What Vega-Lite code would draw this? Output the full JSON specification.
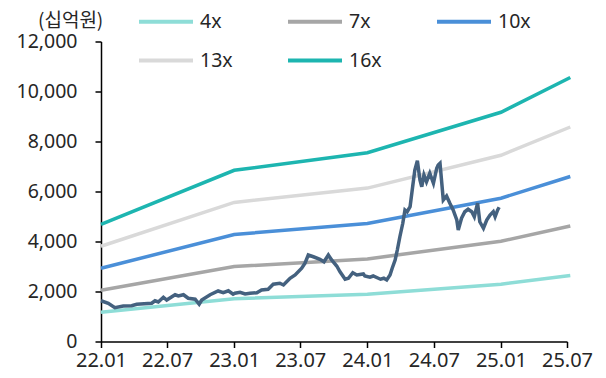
{
  "$schema": "https://vega.github.io/schema/vega-lite/v6.json",
  "width": 466,
  "height": 300,
  "autosize": {"type": "none"},
  "padding": {"left": 101, "top": 41.5, "right": 39, "bottom": 36.5},
  "background": "white",
  "config": {"view": {"stroke": null}, "font": "Noto Sans, Noto Sans CJK KR"},
  "title": {
    "text": "(십억원)",
    "anchor": "start",
    "frame": "group",
    "orient": "top",
    "dx": -63,
    "offset": -53,
    "baseline": "alphabetic",
    "font": "Noto Sans CJK KR",
    "fontSize": 19,
    "fontWeight": "normal",
    "color": "#262626"
  },
  "datasets": {
    "bands": [
      {"date": "2022-01-01", "band": "4x", "value": 1172},
      {"date": "2023-01-01", "band": "4x", "value": 1712},
      {"date": "2024-01-01", "band": "4x", "value": 1888},
      {"date": "2025-01-01", "band": "4x", "value": 2292},
      {"date": "2025-07-10", "band": "4x", "value": 2640},
      {"date": "2022-01-01", "band": "7x", "value": 2051},
      {"date": "2023-01-01", "band": "7x", "value": 2996},
      {"date": "2024-01-01", "band": "7x", "value": 3304},
      {"date": "2025-01-01", "band": "7x", "value": 4011},
      {"date": "2025-07-10", "band": "7x", "value": 4620},
      {"date": "2022-01-01", "band": "10x", "value": 2930},
      {"date": "2023-01-01", "band": "10x", "value": 4280},
      {"date": "2024-01-01", "band": "10x", "value": 4720},
      {"date": "2025-01-01", "band": "10x", "value": 5730},
      {"date": "2025-07-10", "band": "10x", "value": 6600},
      {"date": "2022-01-01", "band": "13x", "value": 3809},
      {"date": "2023-01-01", "band": "13x", "value": 5564},
      {"date": "2024-01-01", "band": "13x", "value": 6136},
      {"date": "2025-01-01", "band": "13x", "value": 7449},
      {"date": "2025-07-10", "band": "13x", "value": 8580},
      {"date": "2022-01-01", "band": "16x", "value": 4688},
      {"date": "2023-01-01", "band": "16x", "value": 6848},
      {"date": "2024-01-01", "band": "16x", "value": 7552},
      {"date": "2025-01-01", "band": "16x", "value": 9168},
      {"date": "2025-07-10", "band": "16x", "value": 10560}
    ],
    "mcap": [
      {"date": "2022-01-01", "value": 1630},
      {"date": "2022-01-21", "value": 1530},
      {"date": "2022-02-08", "value": 1350},
      {"date": "2022-03-03", "value": 1420},
      {"date": "2022-03-26", "value": 1430},
      {"date": "2022-04-09", "value": 1490},
      {"date": "2022-05-20", "value": 1530},
      {"date": "2022-05-29", "value": 1630},
      {"date": "2022-06-07", "value": 1580},
      {"date": "2022-06-21", "value": 1770},
      {"date": "2022-06-30", "value": 1660},
      {"date": "2022-07-23", "value": 1870},
      {"date": "2022-08-01", "value": 1820},
      {"date": "2022-08-15", "value": 1870},
      {"date": "2022-08-28", "value": 1730},
      {"date": "2022-09-16", "value": 1690},
      {"date": "2022-09-27", "value": 1490},
      {"date": "2022-10-04", "value": 1660},
      {"date": "2022-10-27", "value": 1870},
      {"date": "2022-11-18", "value": 2020},
      {"date": "2022-12-02", "value": 1950},
      {"date": "2022-12-16", "value": 2030},
      {"date": "2022-12-29", "value": 1890},
      {"date": "2023-01-03", "value": 1930},
      {"date": "2023-01-17", "value": 1970},
      {"date": "2023-01-31", "value": 1900},
      {"date": "2023-02-13", "value": 1930},
      {"date": "2023-03-04", "value": 1950},
      {"date": "2023-03-17", "value": 2060},
      {"date": "2023-04-04", "value": 2090},
      {"date": "2023-04-18", "value": 2290},
      {"date": "2023-05-06", "value": 2330},
      {"date": "2023-05-16", "value": 2260},
      {"date": "2023-06-03", "value": 2530},
      {"date": "2023-06-17", "value": 2660},
      {"date": "2023-07-05", "value": 2930},
      {"date": "2023-07-14", "value": 3130},
      {"date": "2023-07-23", "value": 3460},
      {"date": "2023-08-06", "value": 3390},
      {"date": "2023-08-24", "value": 3290},
      {"date": "2023-09-04", "value": 3190},
      {"date": "2023-09-16", "value": 3460},
      {"date": "2023-09-25", "value": 3260},
      {"date": "2023-10-09", "value": 3020},
      {"date": "2023-10-18", "value": 2790},
      {"date": "2023-11-01", "value": 2490},
      {"date": "2023-11-10", "value": 2530},
      {"date": "2023-11-22", "value": 2750},
      {"date": "2023-12-03", "value": 2660},
      {"date": "2023-12-21", "value": 2700},
      {"date": "2023-12-25", "value": 2620},
      {"date": "2024-01-08", "value": 2570},
      {"date": "2024-01-17", "value": 2620},
      {"date": "2024-01-31", "value": 2530},
      {"date": "2024-02-06", "value": 2490},
      {"date": "2024-02-15", "value": 2530},
      {"date": "2024-02-23", "value": 2460},
      {"date": "2024-03-03", "value": 2660},
      {"date": "2024-03-09", "value": 2930},
      {"date": "2024-03-17", "value": 3260},
      {"date": "2024-03-23", "value": 3660},
      {"date": "2024-03-30", "value": 4190},
      {"date": "2024-04-07", "value": 4730},
      {"date": "2024-04-13", "value": 5260},
      {"date": "2024-04-19", "value": 5190},
      {"date": "2024-04-27", "value": 5390},
      {"date": "2024-05-04", "value": 6190},
      {"date": "2024-05-10", "value": 6860},
      {"date": "2024-05-17", "value": 7230},
      {"date": "2024-05-24", "value": 6460},
      {"date": "2024-05-29", "value": 6190},
      {"date": "2024-06-04", "value": 6660},
      {"date": "2024-06-11", "value": 6390},
      {"date": "2024-06-20", "value": 6730},
      {"date": "2024-06-30", "value": 6330},
      {"date": "2024-07-09", "value": 6930},
      {"date": "2024-07-13", "value": 7060},
      {"date": "2024-07-18", "value": 7130},
      {"date": "2024-07-27", "value": 5660},
      {"date": "2024-08-05", "value": 5820},
      {"date": "2024-08-14", "value": 5530},
      {"date": "2024-08-23", "value": 5260},
      {"date": "2024-09-02", "value": 4860},
      {"date": "2024-09-06", "value": 4460},
      {"date": "2024-09-15", "value": 4930},
      {"date": "2024-09-24", "value": 5190},
      {"date": "2024-10-03", "value": 5290},
      {"date": "2024-10-13", "value": 5190},
      {"date": "2024-10-20", "value": 4990},
      {"date": "2024-10-29", "value": 5530},
      {"date": "2024-11-04", "value": 4790},
      {"date": "2024-11-14", "value": 4530},
      {"date": "2024-11-23", "value": 4860},
      {"date": "2024-12-02", "value": 5060},
      {"date": "2024-12-11", "value": 5190},
      {"date": "2024-12-16", "value": 4990},
      {"date": "2024-12-23", "value": 5260},
      {"date": "2024-12-27", "value": 5370}
    ]
  },
  "encoding": {
    "x": {
      "field": "date", "type": "temporal",
      "scale": {"type": "utc", "domain": [{"year": 2022, "month": 1, "date": 1, "utc": true}, {"year": 2025, "month": 7, "date": 1, "utc": true}]},
      "axis": {
        "values": [
          {"year": 2022, "month": 1, "date": 1, "utc": true},
          {"year": 2022, "month": 7, "date": 1, "utc": true},
          {"year": 2023, "month": 1, "date": 1, "utc": true},
          {"year": 2023, "month": 7, "date": 1, "utc": true},
          {"year": 2024, "month": 1, "date": 1, "utc": true},
          {"year": 2024, "month": 7, "date": 1, "utc": true},
          {"year": 2025, "month": 1, "date": 1, "utc": true},
          {"year": 2025, "month": 7, "date": 1, "utc": true}
        ],
        "format": "%y.%m",
        "title": null,
        "grid": false,
        "domainColor": "#000000",
        "domainWidth": 1.5,
        "tickColor": "#000000",
        "tickWidth": 1.5,
        "tickSize": 6,
        "labelFontSize": 20,
        "labelColor": "#262626",
        "labelPadding": 3,
        "labelFlush": false,
        "labelOverlap": false
      }
    },
    "y": {
      "field": "value", "type": "quantitative",
      "scale": {"domain": [0, 12000]},
      "axis": {
        "values": [0, 2000, 4000, 6000, 8000, 10000, 12000],
        "format": ",d",
        "grid": false,
        "domainColor": "#000000",
        "domainWidth": 1.5,
        "tickColor": "#000000",
        "tickWidth": 1.5,
        "tickSize": 6,
        "labelFontSize": 19.5,
        "labelColor": "#262626",
        "labelPadding": 18,
        "title": null
      }
    }
  },
  "layer": [
    {
      "data": {"name": "bands"},
      "mark": {"type": "line", "strokeWidth": 3.5, "clip": false},
      "encoding": {
        "color": {
          "field": "band", "type": "nominal",
          "scale": {"domain": ["4x", "7x", "10x", "13x", "16x"], "range": ["#8EDDD7", "#A6A6A6", "#4A8FD8", "#D9D9D9", "#1DB5B0"]},
          "legend": {
            "orient": "none",
            "legendX": 36,
            "legendY": -49,
            "direction": "horizontal",
            "columns": 3,
            "title": null,
            "symbolType": "stroke",
            "symbolSize": 2916,
            "symbolStrokeWidth": 4,
            "labelFontSize": 19.5,
            "labelColor": "#262626",
            "labelOffset": 5,
            "columnPadding": 47,
            "rowPadding": -10
          }
        }
      }
    },
    {
      "data": {"name": "mcap"},
      "mark": {"type": "line", "color": "#44617F", "strokeWidth": 3.5},
      "encoding": {}
    }
  ]
}
